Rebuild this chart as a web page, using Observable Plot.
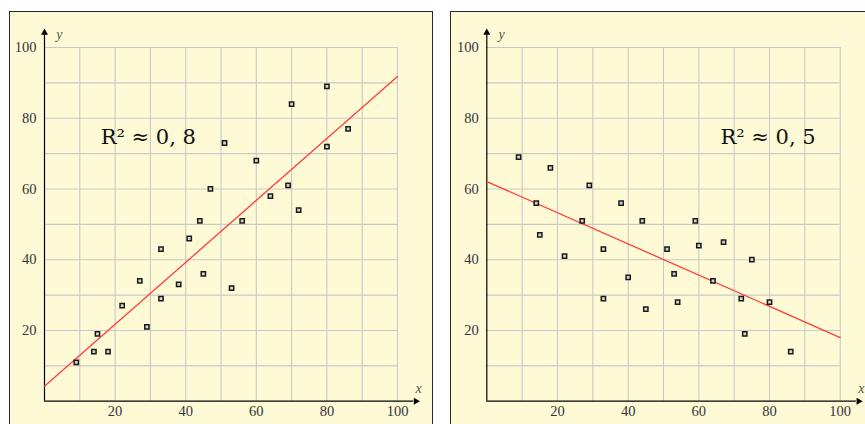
<!DOCTYPE html>
<html>
<head>
<meta charset="utf-8">
<script src="https://cdn.jsdelivr.net/npm/d3@7"></script>
<script src="https://cdn.jsdelivr.net/npm/@observablehq/plot@0.6"></script>
<style>
  html, body { margin: 0; padding: 0; background: #ffffff; width: 865px; height: 424px; overflow: hidden; position: relative; }
  .panel { position: absolute; background: #fffad6; border: 1.5px solid #2a2a2a; box-sizing: border-box; }
  .plot { position: absolute; top: 0; }
</style>
</head>
<body>
<div class="panel" style="left:9px; top:11px; width:424px; height:440px;"></div>
<div class="panel" style="left:450px; top:11px; width:440px; height:440px;"></div>
<div id="left" class="plot" style="left:0px;"></div>
<div id="right" class="plot" style="left:432px;"></div>
<script>
// ---- data ----
const gridTicks = [10, 20, 30, 40, 50, 60, 70, 80, 90, 100];
const labelTicks = [20, 40, 60, 80, 100];

const leftX = [9, 14, 15, 18, 22, 27, 29, 33, 33, 38, 41, 44, 45, 47, 51, 53, 56, 60, 64, 69, 70, 72, 80, 80, 86];
const leftY = [11, 14, 19, 14, 27, 34, 21, 43, 29, 33, 46, 51, 36, 60, 73, 32, 51, 68, 58, 61, 84, 54, 89, 72, 77];
const leftLineX = [0, 100];
const leftLineY = [4.2, 91.8];
const leftLabel = "R² ≈ 0, 8";

const rightX = [9, 14, 15, 18, 22, 27, 29, 33, 33, 38, 40, 44, 45, 51, 53, 54, 59, 60, 64, 67, 72, 73, 75, 80, 86];
const rightY = [69, 56, 47, 66, 41, 51, 61, 43, 29, 56, 35, 51, 26, 43, 36, 28, 51, 44, 34, 45, 29, 19, 40, 28, 14];
const rightLineX = [0, 100];
const rightLineY = [62.1, 18.0];
const rightLabel = "R² ≈ 0, 5";

function panel(xs, ys, lx, ly, label, labelX, opts) {
  const pts = xs.map((x, i) => ({x, y: ys[i]}));
  const line = lx.map((x, i) => ({x, y: ly[i]}));
  const serif = "'Liberation Serif', 'DejaVu Serif', serif";
  const bigSerif = "'DejaVu Serif', 'Liberation Serif', serif";
  return Plot.plot({
    width: opts.width,
    height: 424,
    marginLeft: opts.marginLeft,
    marginRight: opts.marginRight,
    marginTop: 47,
    marginBottom: 23.3,
    x: {domain: [0, 100], axis: null},
    y: {domain: [0, 100], axis: null},
    style: {background: "transparent", overflow: "visible", fontFamily: serif},
    marks: [
      Plot.ruleX(gridTicks, {y1: 0, y2: 100, stroke: "#c9c9c9", strokeWidth: 1.1}),
      Plot.ruleY(gridTicks, {x1: 0, x2: 100, stroke: "#c9c9c9", strokeWidth: 1.1}),
      Plot.ruleX([0], {y1: 0, y2: 103.6, stroke: "#000", strokeWidth: 1.2}),
      Plot.ruleY([0], {x1: 0, x2: 104.6, stroke: "#000", strokeWidth: 1.2}),
      Plot.dot([{x: 0, y: 104.2}], {x: "x", y: "y", symbol: "triangle", r: 2.6, fill: "#000", stroke: "none"}),
      Plot.dot([{x: 105.2, y: 0}], {x: "x", y: "y", symbol: "triangle", r: 2.6, fill: "#000", stroke: "none", rotate: 90}),
      Plot.axisY(labelTicks, {tickSize: 0, tickPadding: 8, fontSize: 14.5, fontFamily: serif, color: "#33343c", label: null}),
      Plot.axisX(labelTicks, {tickSize: 0, tickPadding: 5, fontSize: 14.5, fontFamily: serif, color: "#33343c", label: null}),
      Plot.text(["y"], {x: 3.3, y: 103.6, text: d => d, textAnchor: "start", fontSize: 14, fontStyle: "italic", fontFamily: serif, fill: "#555"}),
      Plot.text(["x"], {x: 106, y: 3.6, text: d => d, textAnchor: "middle", fontSize: 14, fontStyle: "italic", fontFamily: serif, fill: "#555"}),
      Plot.line(line, {x: "x", y: "y", stroke: "#ff3b3b", strokeWidth: 1.3}),
      Plot.dot(pts, {x: "x", y: "y", symbol: "square", r: 2.4, fill: "#d6d6d0", stroke: "#1a1a1a", strokeWidth: 1.5}),
      Plot.text([label], {x: labelX, y: 74.6, text: d => d, textAnchor: "start", fontSize: 21, fontFamily: bigSerif, fill: "#111"})
    ]
  });
}

document.getElementById("left").append(
  panel(leftX, leftY, leftLineX, leftLineY, leftLabel, 15.9, {width: 432, marginLeft: 44, marginRight: 35})
);
document.getElementById("right").append(
  panel(rightX, rightY, rightLineX, rightLineY, rightLabel, 66.1, {width: 433, marginLeft: 54.3, marginRight: 25.3})
);
</script>
</body>
</html>
